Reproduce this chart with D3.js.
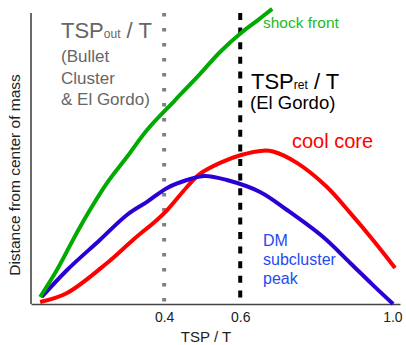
<!DOCTYPE html>
<html>
<head>
<meta charset="utf-8">
<script src="https://cdn.jsdelivr.net/npm/d3@7"></script>
<style>
  html, body { margin: 0; padding: 0; background: #fff; }
  svg { display: block; font-family: "Liberation Sans", Arial, sans-serif; }
</style>
</head>
<body>
<svg id="chart" width="406" height="345"></svg>
<script>
// Time since pericenter (TSP / T) and distance from centre of mass (arbitrary units)
const shockX = [0.074, 0.118, 0.179, 0.250, 0.302, 0.355, 0.429, 0.494, 0.547, 0.602, 0.644, 0.684];
const shockY = [2.4, 11.7, 26.5, 41.6, 50.5, 59.8, 70.1, 79.0, 86.6, 93.1, 97.3, 101.4];

const coreX = [0.074, 0.145, 0.250, 0.318, 0.381, 0.408, 0.460, 0.494, 0.547, 0.602, 0.660, 0.686, 0.749, 0.828, 0.889, 0.949, 1.007];
const coreY = [0.7, 3.8, 14.1, 22.0, 28.9, 32.3, 40.2, 44.7, 48.5, 51.2, 52.7, 52.4, 48.5, 40.2, 31.3, 22.0, 12.4];

const dmX = [0.078, 0.145, 0.231, 0.302, 0.355, 0.408, 0.460, 0.507, 0.565, 0.652, 0.723, 0.818, 0.889, 0.949, 1.002];
const dmY = [2.4, 11.7, 22.0, 30.6, 35.1, 39.9, 42.6, 44.0, 42.6, 38.5, 32.3, 23.0, 14.1, 6.5, 0.0];

const tickValues = [0.4, 0.6, 1.0];
const tspOut = 0.4;   // Bullet Cluster & El Gordo
const tspRet = 0.6;   // El Gordo

const svg = d3.select("#chart");

const x = d3.scaleLinear().domain([0.05, 1.02]).range([31, 400]);
const y = d3.scaleLinear().domain([0, 100]).range([304, 13]);

// axes
svg.append("line")
  .attr("x1", x(0.05)).attr("x2", x(0.05))
  .attr("y1", y(100)).attr("y2", y(0))
  .attr("stroke", "#444").attr("stroke-width", 1.6);

const xAxis = svg.append("g")
  .attr("transform", `translate(0,${y(0)})`)
  .call(d3.axisBottom(x).tickValues(tickValues).tickFormat(d3.format(".1f"))
    .tickSizeInner(0).tickSizeOuter(0).tickPadding(8));
xAxis.select(".domain").attr("stroke", "#444").attr("stroke-width", 1.6);
xAxis.selectAll(".tick text")
  .attr("font-family", "Liberation Sans, Arial, sans-serif")
  .attr("font-size", 14).attr("fill", "#222");

// reference times
svg.append("line")
  .attr("x1", x(tspOut)).attr("x2", x(tspOut))
  .attr("y1", y(100)).attr("y2", y(0))
  .attr("stroke", "#808080").attr("stroke-width", 4)
  .attr("stroke-dasharray", "3.5,11.5");

svg.append("line")
  .attr("x1", x(tspRet)).attr("x2", x(tspRet))
  .attr("y1", y(100)).attr("y2", y(0))
  .attr("stroke", "#000").attr("stroke-width", 4)
  .attr("stroke-dasharray", "7,7.6");

// curves
const line = d3.line()
  .x(d => x(d[0])).y(d => y(d[1]))
  .curve(d3.curveCatmullRom.alpha(0.5));

const series = [
  { xs: coreX, ys: coreY, color: "#ff0000" },
  { xs: dmX, ys: dmY, color: "#2b00d4" },
  { xs: shockX, ys: shockY, color: "#00aa00" }
];

series.forEach(s => {
  svg.append("path")
    .datum(s.xs.map((v, i) => [v, s.ys[i]]))
    .attr("d", line)
    .attr("fill", "none")
    .attr("stroke", s.color)
    .attr("stroke-width", 4)
    .attr("stroke-linecap", "butt")
    .attr("stroke-linejoin", "round");
});

// annotations
function tspLabel(px, py, sub, color) {
  const t = svg.append("text")
    .attr("x", px).attr("y", py)
    .attr("font-size", 22).attr("fill", color);
  t.append("tspan").text("TSP");
  t.append("tspan").attr("font-size", 12).text(sub);
  t.append("tspan").text(" / T");
}

tspLabel(61, 38, "out", "#666");
["(Bullet", "Cluster", "& El Gordo)"].forEach((s, i) => {
  svg.append("text").attr("x", 61).attr("y", 62 + i * 21.6)
    .attr("font-size", 17).attr("fill", "#666").text(s);
});

tspLabel(251, 89, "ret", "#000");
svg.append("text").attr("x", 250).attr("y", 109)
  .attr("font-size", 18.5).attr("fill", "#000").text("(El Gordo)");

svg.append("text").attr("x", 263).attr("y", 28)
  .attr("font-size", 15.5).attr("fill", "#22bb22").text("shock front");

svg.append("text").attr("x", 292).attr("y", 148)
  .attr("font-size", 20).attr("fill", "#ff0000").text("cool core");

["DM", "subcluster", "peak"].forEach((s, i) => {
  svg.append("text").attr("x", 263).attr("y", 246 + i * 19)
    .attr("font-size", 16).attr("fill", "#1f4cf0").text(s);
});

// axis titles
svg.append("text")
  .attr("transform", "translate(20,175) rotate(-90)")
  .attr("text-anchor", "middle")
  .attr("font-size", 15.5).attr("fill", "#222")
  .text("Distance from center of mass");

svg.append("text")
  .attr("x", 206).attr("y", 342)
  .attr("text-anchor", "middle")
  .attr("font-size", 15).attr("fill", "#222")
  .text("TSP / T");
</script>
</body>
</html>
